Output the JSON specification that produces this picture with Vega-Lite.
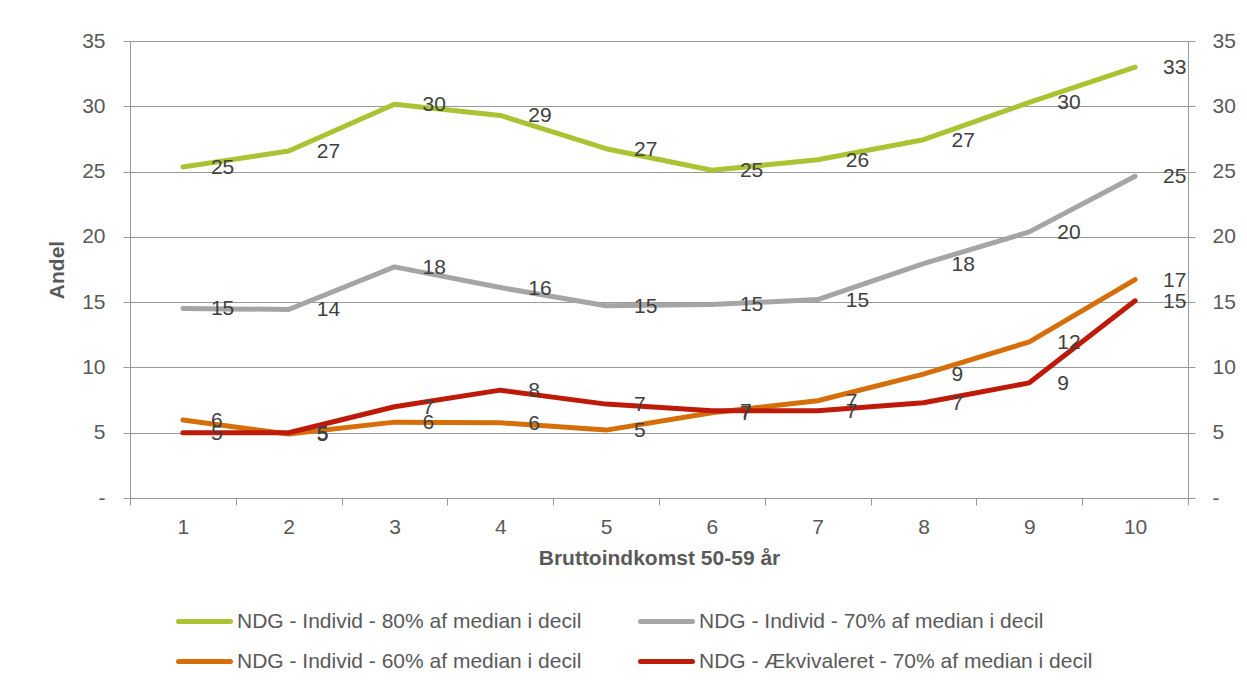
{
  "$schema": "https://vega.github.io/schema/vega-lite/v6.json",
  "width": 1058,
  "height": 457,
  "autosize": {"type": "none"},
  "padding": {"left": 130, "top": 41, "right": 59, "bottom": 188},
  "background": "white",
  "config": {
    "view": {"stroke": null},
    "font": "Liberation Sans",
    "axis": {
      "domainColor": "#999999", "tickColor": "#999999", "gridColor": "#999999",
      "labelColor": "#595959", "titleColor": "#595959",
      "labelFont": "Liberation Sans", "titleFont": "Liberation Sans",
      "labelFontSize": 21, "titleFontSize": 21, "titleFontWeight": "bold",
      "tickSize": 7, "domainWidth": 1, "tickWidth": 1, "gridWidth": 1
    },
    "axisX": {"grid": false, "labelPadding": 11, "titlePadding": 10},
    "axisY": {"labelPadding": 18, "titlePadding": 14}
  },
  "data": {"values": [
    {"decil": 1, "serie": "NDG - Individ - 80% af median i decil", "andel": 25.35},
    {"decil": 2, "serie": "NDG - Individ - 80% af median i decil", "andel": 26.57},
    {"decil": 3, "serie": "NDG - Individ - 80% af median i decil", "andel": 30.15},
    {"decil": 4, "serie": "NDG - Individ - 80% af median i decil", "andel": 29.3},
    {"decil": 5, "serie": "NDG - Individ - 80% af median i decil", "andel": 26.75},
    {"decil": 6, "serie": "NDG - Individ - 80% af median i decil", "andel": 25.1},
    {"decil": 7, "serie": "NDG - Individ - 80% af median i decil", "andel": 25.9},
    {"decil": 8, "serie": "NDG - Individ - 80% af median i decil", "andel": 27.44},
    {"decil": 9, "serie": "NDG - Individ - 80% af median i decil", "andel": 30.3},
    {"decil": 10, "serie": "NDG - Individ - 80% af median i decil", "andel": 33.0},
    {"decil": 1, "serie": "NDG - Individ - 70% af median i decil", "andel": 14.52},
    {"decil": 2, "serie": "NDG - Individ - 70% af median i decil", "andel": 14.44},
    {"decil": 3, "serie": "NDG - Individ - 70% af median i decil", "andel": 17.7},
    {"decil": 4, "serie": "NDG - Individ - 70% af median i decil", "andel": 16.12},
    {"decil": 5, "serie": "NDG - Individ - 70% af median i decil", "andel": 14.72},
    {"decil": 6, "serie": "NDG - Individ - 70% af median i decil", "andel": 14.82},
    {"decil": 7, "serie": "NDG - Individ - 70% af median i decil", "andel": 15.2},
    {"decil": 8, "serie": "NDG - Individ - 70% af median i decil", "andel": 17.95},
    {"decil": 9, "serie": "NDG - Individ - 70% af median i decil", "andel": 20.38},
    {"decil": 10, "serie": "NDG - Individ - 70% af median i decil", "andel": 24.64},
    {"decil": 1, "serie": "NDG - Individ - 60% af median i decil", "andel": 5.97},
    {"decil": 2, "serie": "NDG - Individ - 60% af median i decil", "andel": 4.9},
    {"decil": 3, "serie": "NDG - Individ - 60% af median i decil", "andel": 5.81},
    {"decil": 4, "serie": "NDG - Individ - 60% af median i decil", "andel": 5.76},
    {"decil": 5, "serie": "NDG - Individ - 60% af median i decil", "andel": 5.2},
    {"decil": 6, "serie": "NDG - Individ - 60% af median i decil", "andel": 6.53},
    {"decil": 7, "serie": "NDG - Individ - 60% af median i decil", "andel": 7.45},
    {"decil": 8, "serie": "NDG - Individ - 60% af median i decil", "andel": 9.49},
    {"decil": 9, "serie": "NDG - Individ - 60% af median i decil", "andel": 11.96},
    {"decil": 10, "serie": "NDG - Individ - 60% af median i decil", "andel": 16.73},
    {"decil": 1, "serie": "NDG - Ækvivaleret - 70% af median i decil", "andel": 5.0},
    {"decil": 2, "serie": "NDG - Ækvivaleret - 70% af median i decil", "andel": 5.0},
    {"decil": 3, "serie": "NDG - Ækvivaleret - 70% af median i decil", "andel": 6.99},
    {"decil": 4, "serie": "NDG - Ækvivaleret - 70% af median i decil", "andel": 8.26},
    {"decil": 5, "serie": "NDG - Ækvivaleret - 70% af median i decil", "andel": 7.19},
    {"decil": 6, "serie": "NDG - Ækvivaleret - 70% af median i decil", "andel": 6.68},
    {"decil": 7, "serie": "NDG - Ækvivaleret - 70% af median i decil", "andel": 6.68},
    {"decil": 8, "serie": "NDG - Ækvivaleret - 70% af median i decil", "andel": 7.29},
    {"decil": 9, "serie": "NDG - Ækvivaleret - 70% af median i decil", "andel": 8.82},
    {"decil": 10, "serie": "NDG - Ækvivaleret - 70% af median i decil", "andel": 15.1}
  ]},
  "layer": [
    {
      "mark": {"type": "line", "strokeWidth": 5, "strokeCap": "round", "strokeJoin": "round"},
      "encoding": {
        "x": {
          "field": "decil", "type": "ordinal", "bandPosition": 0.5,
          "scale": {"type": "band", "paddingInner": 0, "paddingOuter": 0},
          "axis": {"tickBand": "extent", "labelAngle": 0, "title": "Bruttoindkomst 50-59 år"}
        },
        "y": {
          "field": "andel", "type": "quantitative",
          "scale": {"domain": [0, 35]},
          "axis": {
            "values": [0, 5, 10, 15, 20, 25, 30, 35],
            "labelExpr": "datum.value == 0 ? '-\u00a0\u00a0' : datum.label",
            "title": "Andel", "grid": true
          }
        },
        "color": {
          "field": "serie", "type": "nominal",
          "scale": {
            "domain": [
              "NDG - Individ - 80% af median i decil",
              "NDG - Individ - 70% af median i decil",
              "NDG - Individ - 60% af median i decil",
              "NDG - Ækvivaleret - 70% af median i decil"
            ],
            "range": ["#AAC332", "#A5A5A5", "#D66E0A", "#BE1A0A"]
          },
          "legend": {
            "orient": "none", "legendX": 46, "legendY": 570,
            "direction": "horizontal", "columns": 2, "title": null,
            "symbolType": "stroke", "symbolSize": 2704, "symbolStrokeWidth": 5,
            "labelFontSize": 21, "labelFont": "Liberation Sans", "labelColor": "#595959",
            "labelLimit": 600, "labelOffset": 4, "columnPadding": 56, "rowPadding": 18,
            "clipHeight": 21, "padding": 0,
            "encode": {"symbols": {"update": {"strokeCap": {"value": "round"}}}}
          }
        }
      }
    },
    {
      "mark": {"type": "text", "align": "left", "baseline": "middle", "dx": 28, "dy": 1, "fontSize": 21, "font": "Liberation Sans", "color": "#404040"},
      "encoding": {
        "x": {
          "field": "decil", "type": "ordinal", "bandPosition": 0.5,
          "scale": {"type": "band", "paddingInner": 0, "paddingOuter": 0}
        },
        "y": {
          "field": "andel", "type": "quantitative",
          "axis": {
            "orient": "right", "values": [0, 5, 10, 15, 20, 25, 30, 35],
            "labelExpr": "datum.value == 0 ? '-' : datum.label",
            "title": null, "grid": false, "labelPadding": 17
          }
        },
        "text": {"field": "andel", "type": "quantitative", "format": ".0f"}
      }
    }
  ],
  "resolve": {"axis": {"y": "independent"}}
}
